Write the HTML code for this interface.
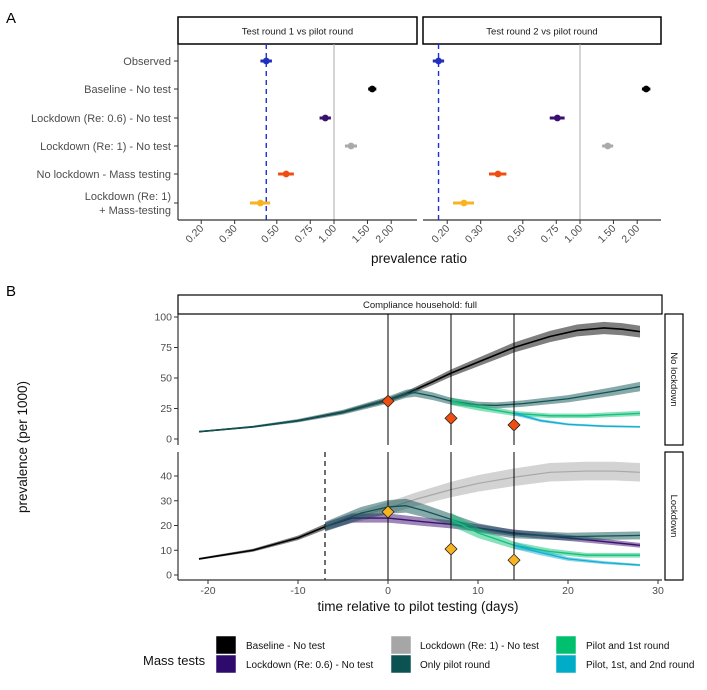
<!DOCTYPE html>
<html><head><meta charset="utf-8"><style>
body{margin:0;background:#fff;width:707px;height:690px;overflow:hidden}
svg{display:block;font-family:"Liberation Sans",sans-serif}
</style></head><body>
<svg id="c" width="707" height="690" xmlns="http://www.w3.org/2000/svg"></svg>
<script>
// ---- Panel A data ----
const catLabels=["Observed","Baseline - No test","Lockdown (Re: 0.6) - No test","Lockdown (Re: 1) - No test","No lockdown - Mass testing","Lockdown (Re: 1)|+ Mass-testing"];
const catColors=["#1f2fbf","#000000","#3b0f70","#aaaaaa","#f04e10","#f8b320"];
const ratioRound1=[0.44,1.59,0.90,1.23,0.56,0.41];
const ciRound1=[0.02,0.04,0.04,0.06,0.04,0.04];
const ratioRound2=[0.18,2.23,0.76,1.40,0.37,0.245];
const ciRound2=[0.008,0.06,0.05,0.06,0.03,0.025];
const ratioTicks=[0.2,0.3,0.5,0.75,1,1.5,2];
const ratioTickLabels=["0.20","0.30","0.50","0.75","1.00","1.50","2.00"];
// ---- Panel B data ----
const dayTicks=[-20,-10,0,10,20,30];
const topTicks=[0,25,50,75,100];
const botTicks=[0,10,20,30,40];
const nlBaselineX=[-21,-15,-10,-5,0,2,5,7,10,14,18,21,24,26,28];
const nlBaselineY=[6,10,15,22,32,37,47,54,63,75,84,89,91,90,88];
const nlPilotX=[-21,-15,-10,-5,0,2,3,5,7,10,12,15,20,25,28];
const nlPilotY=[6,10,15,22,32,37,38,35,31,28,27.5,29,33,39,43];
const nlPilot1X=[7,10,14,18,22,25,28];
const nlPilot1Y=[31,26,21,19,19,20,21];
const nlPilot12X=[14,17,20,24,28];
const nlPilot12Y=[21,15,12,10.5,10];
const nlMarkX=[0,7,14];
const nlMarkY=[31,17,11.5];
const ldPreX=[-21,-15,-10,-7];
const ldPreY=[6.5,10,15,19.5];
const ldRe1X=[-7,-4,0,3,7,10,14,18,22,25,28];
const ldRe1Y=[19.5,23,27,30.5,34.5,37,39.5,41.5,42,42,41.5];
const ld06X=[-7,-4,0,4,7,10,14,20,24,28];
const ld06Y=[19.5,23,23,21.5,20.5,19,17,15,13.5,12];
const ldPilotX=[-7,-3,0,2,4,7,10,14,20,28];
const ldPilotY=[19.5,25,27.5,28,26,22.5,19,16.5,15.5,16];
const ldPilot1X=[7,10,14,18,22,28];
const ldPilot1Y=[22.5,17,12,9.5,8,8];
const ldPilot12X=[14,17,20,24,28];
const ldPilot12Y=[12,9,6.5,5,4];
const ldMarkX=[0,7,14];
const ldMarkY=[25.5,10.5,6];

const svg=document.getElementById('c');
const NS="http://www.w3.org/2000/svg";
function mk(tag,at,parent){const e=document.createElementNS(NS,tag);for(const k in at)e.setAttribute(k,at[k]);(parent||svg).appendChild(e);return e;}
function txt(s,at,parent){const e=mk('text',at,parent);e.textContent=s;return e;}

let e=txt("A",{x:6,y:23,"font-size":15,fill:"#000"});


e=txt("B",{x:6,y:296,"font-size":15,fill:"#000"});



// ---- Panel A ----
const rowY=[61,89,118,146,174,203];
const panels=[{x0:178,x1:417,one:334,title:"Test round 1 vs pilot round",vals:ratioRound1,ci:ciRound1},
              {x0:423,x1:661,one:580,title:"Test round 2 vs pilot round",vals:ratioRound2,ci:ciRound2}];
const k=82.5;
panels.forEach((p,pi)=>{
  const sx=v=>p.one+k*Math.log(v);
  const g=mk('g',{});
  
  
  let s=mk('rect',{x:p.x0,y:17,width:p.x1-p.x0,height:27,fill:"#fff",stroke:"#000","stroke-width":1.5},g);
  
  
  s=txt(p.title,{x:(p.x0+p.x1)/2,y:34.5,"text-anchor":"middle","font-size":9.5,fill:"#1a1a1a"},g);
  
  
  s=mk('line',{x1:sx(1),x2:sx(1),y1:44,y2:220,stroke:"#aaa","stroke-width":1},g);
  
  
  s=mk('line',{x1:sx(p.vals[0]),x2:sx(p.vals[0]),y1:44,y2:220,stroke:"#1f2fd0","stroke-width":1.4,"stroke-dasharray":"5,4"},g);
  
  
  s=mk('line',{x1:p.x0,x2:p.x1,y1:220,y2:220,stroke:"#333","stroke-width":1.2},g);
  
  
  ratioTicks.forEach((t,i)=>{
    const x=sx(t);
    let tk=mk('line',{x1:x,x2:x,y1:220,y2:224,stroke:"#333"},g);
    
    
    tk=txt(ratioTickLabels[i],{x:x+3,y:229,"text-anchor":"end","font-size":10.5,fill:"#4d4d4d",transform:`rotate(-45 ${x+3} 229)`},g);
    
    
  });
  p.vals.forEach((v,i)=>{
    const lo=sx(Math.max(v-p.ci[i],0.01)),hi=sx(v+p.ci[i]);
    let m=mk('line',{x1:lo-2,x2:hi+2,y1:rowY[i],y2:rowY[i],stroke:catColors[i],"stroke-width":3},g);
    
    
    m=mk('circle',{cx:sx(v),cy:rowY[i],r:3.4,fill:catColors[i]},g);
    
    
  });
});
e=mk('line',{x1:178,x2:178,y1:44,y2:220,stroke:"#333","stroke-width":1.2});


catLabels.forEach((l,i)=>{
  let t=mk('line',{x1:174,x2:178,y1:rowY[i],y2:rowY[i],stroke:"#333"});
  
  
  const parts=l.split("|");
  parts.forEach((pt,j)=>{
    const yy=rowY[i]+4-(parts.length-1)*7+j*14;
    t=txt(pt,{x:171,y:yy,"text-anchor":"end","font-size":11,fill:"#4d4d4d"});
    
    
  });
});
e=txt("prevalence ratio",{x:419,y:263,"text-anchor":"middle","font-size":13.5,fill:"#111"});



// ---- Panel B ----
const bx0=178,bx1=662;
const sxB=d=>388+9*d;
const syTop=v=>439-1.22*v;
const syBot=v=>575-2.475*v;
e=mk('rect',{x:bx0,y:295,width:bx1-bx0,height:19,fill:"#fff",stroke:"#000","stroke-width":1.2});


e=txt("Compliance household: full",{x:420,y:308,"text-anchor":"middle","font-size":9.5,fill:"#1a1a1a"});



function series(g,xs,ys,sy,color,w,frac,name){
  let up=[],dn=[];
  xs.forEach((d,i)=>{const b=Math.max(0.4,ys[i]*frac);up.push(sxB(d)+","+sy(ys[i]+b));dn.unshift(sxB(d)+","+sy(ys[i]-b));});
  let r=mk('polygon',{points:up.concat(dn).join(" "),fill:color,opacity:0.5},g);
  
  
  const pts=xs.map((d,i)=>sxB(d)+","+sy(ys[i])).join(" ");
  r=mk('polyline',{points:pts,fill:"none",stroke:color,"stroke-width":w,"stroke-linejoin":"round"},g);
  
  
}
function markers(g,xs,ys,sy,color){
  xs.forEach((d,i)=>{const x=sxB(d),y=sy(ys[i]);
    const m=mk('polygon',{points:`${x},${y-6} ${x+6},${y} ${x},${y+6} ${x-6},${y}`,fill:color,stroke:"#222","stroke-width":0.8},g);
    
    });
}
function facet(top,bot,sy,ticks,label,name){
  const g=mk('g',{});
  
  
  let a=mk('line',{x1:bx0,x2:bx0,y1:top,y2:bot,stroke:"#333","stroke-width":1.2},g);
  
  
  ticks.forEach(t=>{
    let q=mk('line',{x1:bx0-4,x2:bx0,y1:sy(t),y2:sy(t),stroke:"#333"},g);
    
    
    q=txt(String(t),{x:bx0-6,y:sy(t)+3.5,"text-anchor":"end","font-size":10.5,fill:"#4d4d4d"},g);
    
    
  });
  a=mk('rect',{x:665,y:top,width:18,height:bot-top,fill:"#fff",stroke:"#000","stroke-width":1.2},g);
  
  
  const cy=(top+bot)/2;
  a=txt(label,{x:671,y:cy,"text-anchor":"middle","font-size":9.5,fill:"#1a1a1a",transform:`rotate(90 671 ${cy})`},g);
  
  
  return g;
}
let gt=facet(314,445,syTop,topTicks,"No lockdown","no-lockdown-facet");
series(gt,nlBaselineX,nlBaselineY,syTop,"#000000",1.6,0.055,"baseline");
series(gt,nlPilotX,nlPilotY,syTop,"#0f5354",1.3,0.09,"only-pilot");
series(gt,nlPilot1X,nlPilot1Y,syTop,"#12c17a",1.3,0.1,"pilot-1st");
series(gt,nlPilot12X,nlPilot12Y,syTop,"#12aed2",1.3,0.08,"pilot-1st-2nd");
[0,7,14].forEach(d=>{const l=mk('line',{x1:sxB(d),x2:sxB(d),y1:314,y2:445,stroke:"#000","stroke-width":1},gt);
  
  });
markers(gt,nlMarkX,nlMarkY,syTop,"#f04e10");
let gb=facet(452,580,syBot,botTicks,"Lockdown","lockdown-facet");
series(gb,ldPreX,ldPreY,syBot,"#000000",1.6,0.06,"pre-lockdown");
series(gb,ldRe1X,ldRe1Y,syBot,"#a8a8a8",1.2,0.09,"lockdown-re1");
series(gb,ld06X,ld06Y,syBot,"#3b0f70",1.4,0.08,"lockdown-re06");
series(gb,ldPilotX,ldPilotY,syBot,"#0f5354",1.3,0.1,"ld-only-pilot");
series(gb,ldPilot1X,ldPilot1Y,syBot,"#12c17a",1.3,0.12,"ld-pilot-1st");
series(gb,ldPilot12X,ldPilot12Y,syBot,"#12aed2",1.3,0.12,"ld-pilot-1st-2nd");
e=mk('line',{x1:sxB(-7),x2:sxB(-7),y1:452,y2:580,stroke:"#222","stroke-width":1.3,"stroke-dasharray":"5,4"},gb);


[0,7,14].forEach(d=>{const l=mk('line',{x1:sxB(d),x2:sxB(d),y1:452,y2:580,stroke:"#000","stroke-width":1},gb);
  
  });
markers(gb,ldMarkX,ldMarkY,syBot,"#f8b320");
e=mk('line',{x1:bx0,x2:bx1,y1:580,y2:580,stroke:"#333","stroke-width":1.2});


dayTicks.forEach(t=>{
  let q=mk('line',{x1:sxB(t),x2:sxB(t),y1:580,y2:584,stroke:"#333"});
  
  
  q=txt(String(t),{x:sxB(t),y:594,"text-anchor":"middle","font-size":10.5,fill:"#4d4d4d"});
  
  
});
e=txt("time relative to pilot testing (days)",{x:418,y:611,"text-anchor":"middle","font-size":13.5,fill:"#111"});


e=txt("prevalence (per 1000)",{x:27,y:447,"text-anchor":"middle","font-size":13.5,fill:"#111",transform:"rotate(-90 27 447)"});



const legLabels=["Baseline - No test","Lockdown (Re: 0.6) - No test","Lockdown (Re: 1) - No test","Only pilot round","Pilot and 1st round","Pilot, 1st, and 2nd round"];
const legColors=["#000000","#2d0a6b","#a6a6a6","#0d5253","#00c070","#00acc8"];
e=txt("Mass tests",{x:143,y:665,"font-size":13,fill:"#111"});


const colX=[216,391,556],txX=[246,420,586];
legLabels.forEach((l,i)=>{
  const c=Math.floor(i/2),r=i%2;
  const y=636+r*19;
  const g=mk('g',{});
  
  
  let q=mk('rect',{x:colX[c],y:y,width:20,height:18,fill:legColors[i],stroke:"#fff","stroke-width":0.5},g);
  
  
  q=txt(l,{x:txX[c],y:y+13,"font-size":10,fill:"#111"},g);
  
  
});
</script>
</body></html>
